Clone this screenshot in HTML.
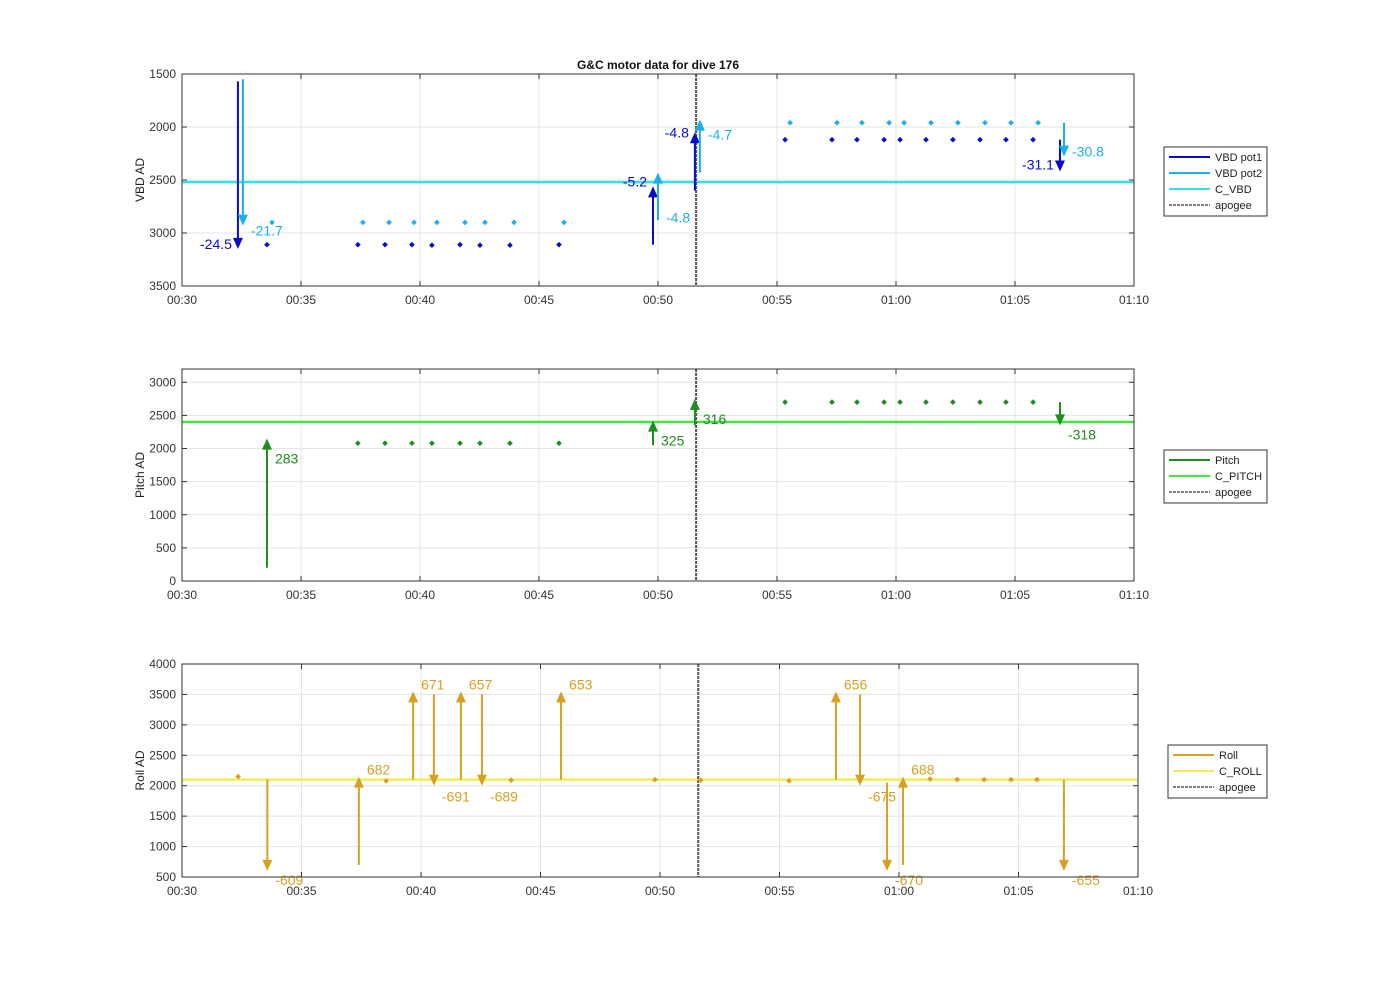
<!DOCTYPE html>
<html><head><meta charset="utf-8"><style>
body{margin:0;background:#fff;}
svg{display:block;font-family:"Liberation Sans",sans-serif;}
</style></head><body>
<svg id="chart" width="1400" height="986"></svg>
<script>
// ---------- data (times in minutes after 00:00) ----------
const xTickLabels=["00:30","00:35","00:40","00:45","00:50","00:55","01:00","01:05","01:10"];
const xTickVals=[30,35,40,45,50,55,60,65,70];
const apogeeTime=51.6;
// VBD
const vbdTicks=[1500,2000,2500,3000,3500];
const cVBD=2520;
const pot1LowT=[33.57,37.39,38.53,39.66,40.5,41.68,42.52,43.78,45.84];
const pot1LowV=[3110,3110,3110,3110,3115,3110,3115,3115,3110];
const pot1HighT=[55.34,57.31,58.36,59.5,60.17,61.26,62.39,63.53,64.62,65.76];
const pot1HighV=[2120,2120,2120,2120,2120,2120,2120,2120,2120,2120];
const pot2LowT=[33.78,37.6,38.7,39.75,40.71,41.89,42.73,43.95,46.05];
const pot2LowV=[2900,2900,2900,2900,2900,2900,2900,2900,2900];
const pot2HighT=[55.55,57.52,58.57,59.71,60.34,61.47,62.6,63.74,64.83,65.97];
const pot2HighV=[1960,1960,1960,1960,1960,1960,1960,1960,1960,1960];
const pot1ArrT=[32.35,49.79,51.55,66.89];
const pot1ArrFrom=[1570,3110,2600,2120];
const pot1ArrTo=[3150,2560,2050,2420];
const pot1ArrLbl=["-24.5","-5.2","-4.8","-31.1"];
const pot2ArrT=[32.56,50.0,51.76,67.06];
const pot2ArrFrom=[1550,2880,2430,1960];
const pot2ArrTo=[2930,2430,1930,2280];
const pot2ArrLbl=["-21.7","-4.8","-4.7","-30.8"];
// Pitch
const pitchTicks=[0,500,1000,1500,2000,2500,3000];
const cPitch=2400;
const pitchPtT=[37.39,38.53,39.66,40.5,41.68,42.52,43.78,45.84,55.34,57.31,58.36,59.5,60.17,61.26,62.39,63.53,64.62,65.76];
const pitchPtV=[2080,2080,2080,2080,2080,2080,2080,2080,2700,2700,2700,2700,2700,2700,2700,2700,2700,2700];
const pitchArrT=[33.57,49.79,51.55,66.89];
const pitchArrFrom=[200,2050,2350,2700];
const pitchArrTo=[2150,2420,2750,2350];
const pitchArrLbl=["283","325","316","-318"];
// Roll
const rollTicks=[500,1000,1500,2000,2500,3000,3500,4000];
const cRoll=2100;
const rollPtT=[32.35,38.54,43.77,49.79,51.7,55.4,61.3,62.43,63.56,64.69,65.77];
const rollPtV=[2150,2080,2090,2100,2090,2080,2110,2100,2100,2100,2100];
const rollArrT=[33.57,37.4,39.67,40.54,41.67,42.55,45.86,57.36,58.37,59.5,60.17,66.9];
const rollArrFrom=[2100,700,2100,3500,2100,3500,2100,2100,3500,2050,700,2100];
const rollArrTo=[600,2150,3550,2000,3550,2000,3550,3550,2000,600,2150,600];
const rollArrLbl=["-609","682","671","-691","657","-689","653","656","-675","-670","688","-655"];

const svg=document.getElementById('chart');
const NS="http://www.w3.org/2000/svg";
function mk(tag,attrs,parent,name){const e=document.createElementNS(NS,tag);for(const k in attrs)e.setAttribute(k,attrs[k]);


(parent||svg).appendChild(e);return e;}

function panel(cfg){
  const g=mk('g',{},svg,cfg.name);
  const {x0,x1,y0,y1,ymin,ymax,rev}=cfg;
  const X=t=>x0+(t-30)/40*(x1-x0);
  const Y=v=>rev? y0+(v-ymin)/(ymax-ymin)*(y1-y0) : y1-(v-ymin)/(ymax-ymin)*(y1-y0);
  cfg.X=X;cfg.Y=Y;
  mk('rect',{x:x0,y:y0,width:x1-x0,height:y1-y0,fill:'#fff'},g,'plot-area');
  xTickVals.forEach((t,i)=>{
    mk('line',{x1:X(t),x2:X(t),y1:y0,y2:y1,stroke:'#e4e4e4','stroke-width':1},g,'x-grid-line');
    mk('line',{x1:X(t),x2:X(t),y1:y1,y2:y1-5,stroke:'#333'},g,'x-tick');
    mk('line',{x1:X(t),x2:X(t),y1:y0,y2:y0+5,stroke:'#333'},g,'x-tick');
    const tx=mk('text',{x:X(t),y:y1+18,'font-size':12,'text-anchor':'middle',fill:'#333'},g,'x-tick-label');tx.textContent=xTickLabels[i];
  });
  cfg.ticks.forEach(v=>{
    mk('line',{x1:x0,x2:x1,y1:Y(v),y2:Y(v),stroke:'#e4e4e4'},g,'y-grid-line');
    mk('line',{x1:x0,x2:x0+5,y1:Y(v),y2:Y(v),stroke:'#333'},g,'y-tick');
    mk('line',{x1:x1,x2:x1-5,y1:Y(v),y2:Y(v),stroke:'#333'},g,'y-tick');
    const tx=mk('text',{x:x0-6,y:Y(v)+4,'font-size':12,'text-anchor':'end',fill:'#333'},g,'y-tick-label');tx.textContent=v;
  });
  const yl=mk('text',{x:0,y:0,'font-size':12,'text-anchor':'middle',fill:'#222',transform:`translate(${x0-38},${(y0+y1)/2}) rotate(-90)`},g,'y-axis-title');yl.textContent=cfg.ylabel;
  cfg.g=g;return cfg;
}
function hline(p,v,color,name){mk('line',{x1:p.x0,x2:p.x1,y1:p.Y(v),y2:p.Y(v),stroke:color,'stroke-width':2.5},p.g,name);}
function apogee(p){mk('line',{x1:p.X(apogeeTime),x2:p.X(apogeeTime),y1:p.y0,y2:p.y1,stroke:'#555','stroke-width':2,'stroke-dasharray':'3,1'},p.g,'apogee-line');}
function points(p,T,V,color,name){T.forEach((t,i)=>mk('rect',{x:p.X(t)-2,y:p.Y(V[i])-2,width:4,height:4,fill:color,transform:`rotate(45 ${p.X(t)} ${p.Y(V[i])})`},p.g,name));}
function arrows(p,T,F,To,L,color,name,side,dy){
  T.forEach((t,i)=>{
    const x=p.X(t),ya=p.Y(F[i]),yb=p.Y(To[i]);const dir=yb>ya?1:-1;
    mk('line',{x1:x,x2:x,y1:ya,y2:yb-dir*9,stroke:color,'stroke-width':2},p.g,name+'-shaft');
    mk('polygon',{points:`${x-5},${yb-dir*11} ${x+5},${yb-dir*11} ${x},${yb}`,fill:color},p.g,name+'-head');
    const s=side[i];
    const tx=mk('text',{x:s<0?x-6:x+8,y:yb+(dy?dy[i]:5),'font-size':14,'text-anchor':s<0?'end':'start',fill:color},p.g,name+'-label');tx.textContent=L[i];
  });
}
function frame(p){mk('rect',{x:p.x0,y:p.y0,width:p.x1-p.x0,height:p.y1-p.y0,fill:'none',stroke:'#333','stroke-width':1},p.g,'axes-frame');}
function legend(x,y,w,entries,name){
  const g=mk('g',{},svg,name);
  mk('rect',{x:x,y:y,width:w,height:entries.length*16+5,fill:'#fff',stroke:'#333'},g,'legend-box');
  entries.forEach((e,i)=>{
    const yy=y+10+i*16;
    mk('line',{x1:x+5,x2:x+46,y1:yy,y2:yy,stroke:e[1],'stroke-width':e[2]?1.5:2,'stroke-dasharray':e[2]?'3,1':''},g,'legend-line');
    const t=mk('text',{x:x+51,y:yy+4,'font-size':11,fill:'#222'},g,'legend-entry');t.textContent=e[0];
  });
}
const DB='#0a0acc',LB='#1ab0e8',CY='#33e0e8',DG='#1e8c1e',LG='#3ee83e',GO='#d8a020',YE='#f2ee50';

// Panel 1
const p1=panel({name:'vbd-panel',x0:182,x1:1134,y0:74,y1:286,ymin:1500,ymax:3500,rev:true,ticks:vbdTicks,ylabel:'VBD AD'});
hline(p1,cVBD,CY,'c-vbd-line');apogee(p1);
points(p1,pot1LowT,pot1LowV,DB,'vbd-pot1-point');points(p1,pot1HighT,pot1HighV,DB,'vbd-pot1-point');
points(p1,pot2LowT,pot2LowV,LB,'vbd-pot2-point');points(p1,pot2HighT,pot2HighV,LB,'vbd-pot2-point');
arrows(p1,pot1ArrT,pot1ArrFrom,pot1ArrTo,pot1ArrLbl,DB,'vbd-pot1-arrow',[-1,-1,-1,-1],[0,0,5,-2]);
arrows(p1,pot2ArrT,pot2ArrFrom,pot2ArrTo,pot2ArrLbl,LB,'vbd-pot2-arrow',[1,1,1,1],[10,50,20,0]);
frame(p1);
const ti=mk('text',{x:658,y:69,'font-size':12,'font-weight':'bold','text-anchor':'middle',fill:'#111'},svg,'chart-title');ti.textContent='G&C motor data for dive 176';
legend(1164,147,103,[['VBD pot1',DB],['VBD pot2',LB],['C_VBD',CY],['apogee','#555',1]],'vbd-legend');

// Panel 2
const p2=panel({name:'pitch-panel',x0:182,x1:1134,y0:369,y1:581,ymin:0,ymax:3200,rev:false,ticks:pitchTicks,ylabel:'Pitch AD'});
hline(p2,cPitch,LG,'c-pitch-line');apogee(p2);
points(p2,pitchPtT,pitchPtV,DG,'pitch-point');
arrows(p2,pitchArrT,pitchArrFrom,pitchArrTo,pitchArrLbl,DG,'pitch-arrow',[1,1,1,1],[25,25,25,14]);
frame(p2);
legend(1164,450,103,[['Pitch',DG],['C_PITCH',LG],['apogee','#555',1]],'pitch-legend');

// Panel 3
const p3=panel({name:'roll-panel',x0:182,x1:1138,y0:664,y1:877,ymin:500,ymax:4000,rev:false,ticks:rollTicks,ylabel:'Roll AD'});
hline(p3,cRoll,YE,'c-roll-line');apogee(p3);
points(p3,rollPtT,rollPtV,GO,'roll-point');
arrows(p3,rollArrT,rollArrFrom,rollArrTo,rollArrLbl,GO,'roll-arrow',[1,1,1,1,1,1,1,1,1,1,1,1],[14,-2,-2,16,-2,16,-2,-2,16,14,-2,14]);
frame(p3);
legend(1168,745,99,[['Roll',GO],['C_ROLL',YE],['apogee','#555',1]],'roll-legend');
</script>
</body></html>
